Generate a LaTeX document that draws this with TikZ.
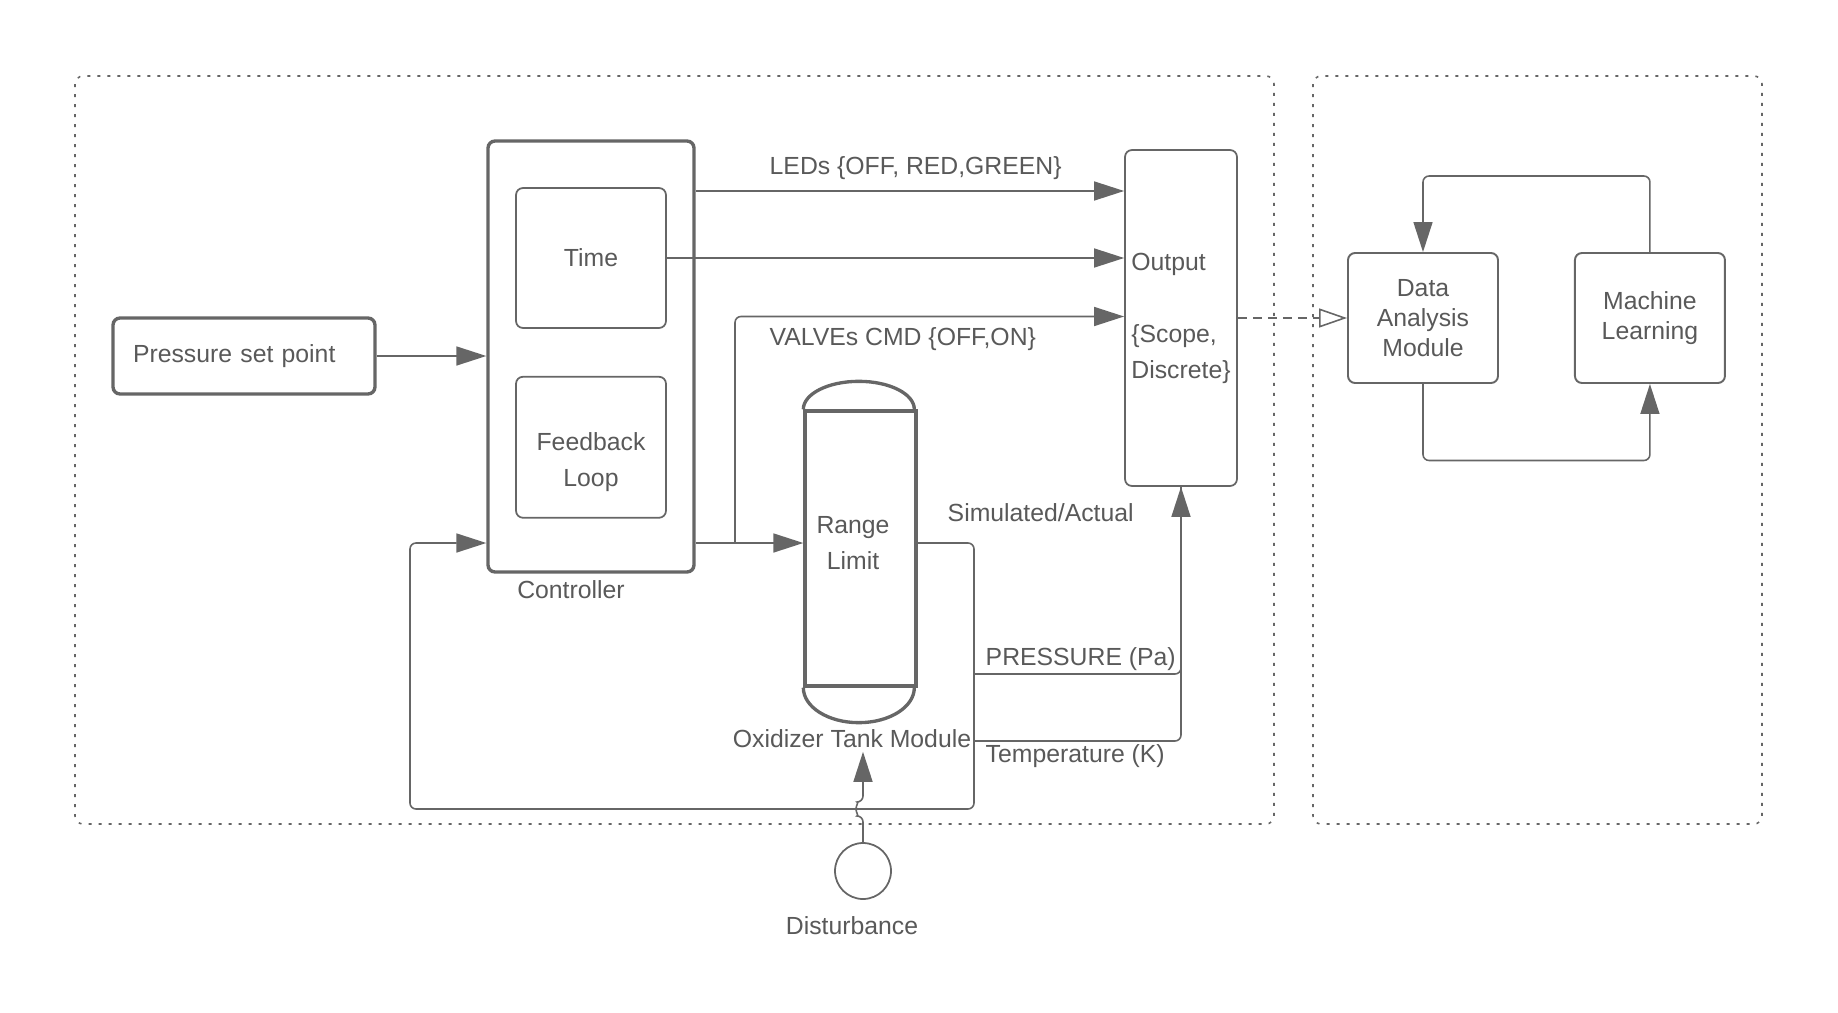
\documentclass[tikz,border=0pt]{standalone}
\usepackage{fontspec}
\setmainfont{Liberation Sans}
\usetikzlibrary{arrows.meta, positioning, calc}
\definecolor{lineGray}{HTML}{666666}
\definecolor{textGray}{HTML}{595959}

\begin{document}
\begin{tikzpicture}[
    color=lineGray, text=textGray,
    font=\fontsize{7.05}{10.24}\selectfont,
    box/.style={draw, rounded corners=2pt, line width=0.5pt, align=center,
                inner sep=0pt},
    heavy/.style={box, line width=0.95pt},
    tank/.style={draw, line width=0.95pt, minimum width=1.11cm,
                 minimum height=2.75cm, align=center, inner sep=0pt},
    tight/.style={font=\fontsize{7.05}{8.5}\selectfont},
    lbl/.style={inner sep=1pt, align=center},
    arrow/.style={-{Triangle[length=0.3cm, width=0.19cm]}, line width=0.45pt,
                  rounded corners=0.06cm},
    wire/.style={line width=0.45pt, rounded corners=0.06cm},
    frame/.style={dash pattern=on 0.03cm off 0.07cm, line width=0.45pt,
                  rounded corners=0.08cm},
    dasharrow/.style={-{Triangle[open, length=0.28cm, width=0.19cm]},
                      dash pattern=on 0.09cm off 0.06cm, line width=0.45pt},
]
\useasboundingbox (0,0) rectangle (18.38,-10.13);

% Frames
\draw[frame] (0.75,-0.76) rectangle (12.74,-8.24);
\draw[frame] (13.13,-0.76) rectangle (17.62,-8.24);

% Controller side
\node[heavy, minimum width=2.62cm, minimum height=0.76cm, text width=2.22cm,
      align=left] (psp) at (2.44,-3.56) {Pressure set point};
\node[heavy, minimum width=2.06cm, minimum height=4.31cm] (ctrl) at (5.91,-3.565) {};
\node[box, minimum width=1.5cm, minimum height=1.4cm] (time) at (5.91,-2.58) {Time};
\node[box, minimum width=1.5cm, minimum height=1.41cm, below=0.47cm of time] (fb) {};
\node[lbl] (fbtxt) at ([yshift=-0.15cm]fb.center) {Feedback\\Loop};
\node[lbl] (ctrllbl) at (5.71,-5.90) {Controller};

% Tank
\node[tank] (tank) at (8.605,-5.485) {};
\node[lbl] (tanktxt) at (8.53,-5.43) {Range\\Limit};
\draw[line width=0.95pt] (tank.north west)
    arc[start angle=180, end angle=0, x radius=0.555cm, y radius=0.28cm];
\draw[line width=0.95pt] (tank.south west)
    arc[start angle=180, end angle=360, x radius=0.555cm, y radius=0.35cm];
\node[lbl] (tanklbl) at (8.52,-7.385) {Oxidizer Tank Module};
\node[draw, circle, line width=0.5pt, minimum size=0.56cm, inner sep=0pt]
    (dist) at (8.63,-8.71) {};
\node[lbl] (distlbl) at (8.52,-9.26) {Disturbance};

% Output
\node[box, minimum width=1.12cm, minimum height=3.36cm, align=left]
    (out) at (11.81,-3.18) {Output\\[0.36cm]\{Scope,\\Discrete\}};

% Analysis side
\node[box, tight, line width=0.55pt, minimum width=1.5cm, minimum height=1.3cm]
    (da) at (14.23,-3.18) {Data\\Analysis\\Module};
\node[box, tight, line width=0.55pt, minimum width=1.5cm, minimum height=1.3cm,
      right=0.75cm of da] (ml) {Machine\\Learning};

% Signal labels
\node[lbl, anchor=west] (ledlbl) at (7.655,-1.68) {LEDs \{OFF, RED,GREEN\}};
\node[lbl, anchor=west] (vallbl) at (7.655,-3.39) {VALVEs CMD \{OFF,ON\}};
\node[lbl, anchor=west] (simlbl) at (9.435,-5.13) {Simulated/Actual};
\node[lbl, anchor=west] (preslbl) at (9.815,-6.59) {PRESSURE (Pa)};
\node[lbl, anchor=west] (templbl) at (9.815,-7.56) {Temperature (K)};

\coordinate (ledY) at (0,-1.91);
\coordinate (valY) at (0,-3.165);
\coordinate (vb) at (7.35,-5.43);
\coordinate (fbR) at (9.74,-5.43);
\coordinate (fbB) at (4.10,-8.09);
\coordinate (presY) at (0,-6.74);
\coordinate (tempY) at (0,-7.41);

% Connectors
\draw[arrow] (psp) -- (psp -| ctrl.west);
\draw[arrow] (ctrl.east |- ledY) -- (out.west |- ledY);
\draw[arrow] (time.east) -- (time.east -| out.west);
\draw[arrow] (ctrl.east |- vb) -- (tank.west |- vb);
\draw[arrow] (vb) |- (out.west |- valY);
\draw[arrow] (tank.east |- vb) -| (fbR |- fbB) -- (fbB) |- (ctrl.west |- vb);
\draw[wire] (fbR |- presY) -| (out.south);
\draw[arrow] (fbR |- tempY) -| (out.south);
\draw[arrow] (dist.north) -- ($(dist.north |- fbB)+(0,-0.07)$)
    arc[start angle=270, end angle=90, radius=0.07] -- (dist.north |- tanklbl.south);
\draw[dasharrow] (out.east) -- (da.west);
\draw[arrow] (ml.north) -- ++(0,0.76) -| (da.north);
\draw[arrow] (da.south) -- ++(0,-0.765) -| (ml.south);
\end{tikzpicture}
\end{document}
